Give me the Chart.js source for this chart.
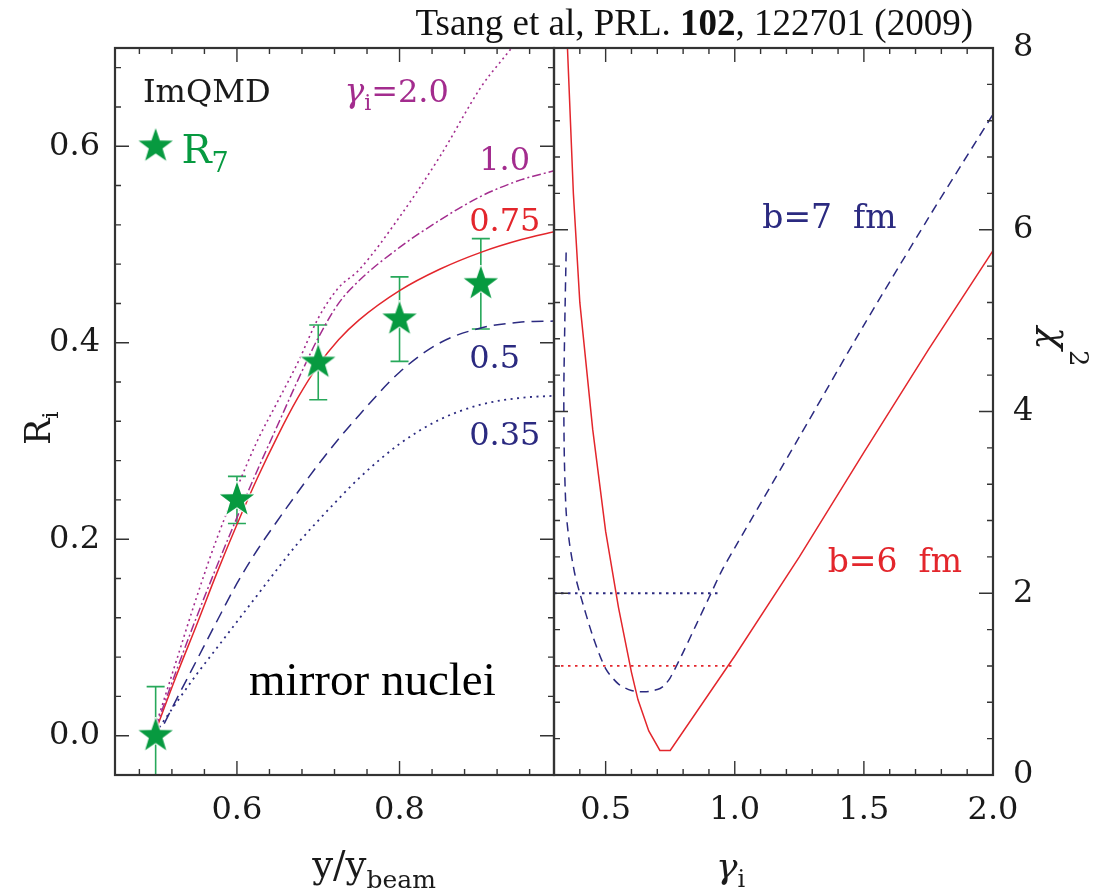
<!DOCTYPE html>
<html>
<head>
<meta charset="utf-8">
<title>ImQMD mirror nuclei: R_i and chi2 vs gamma_i</title>
<script src="https://cdn.jsdelivr.net/npm/chart.js"></script>
<style>
    body { margin: 0; background: #fff; }
    #wrap { position: relative; width: 1103px; height: 890px; }
    canvas { position: absolute; top: 0; }
    #leftChart { left: 0; }
    #rightChart { left: 548px; }
    #cite {
        position: absolute; right: 130px; top: 4px;
        font-family: 'Liberation Serif', serif; font-size: 37px; line-height: 37px;
        color: #111; white-space: nowrap;
    }
</style>
</head>
<body>
<div id="wrap">
    <canvas id="leftChart" width="560" height="890"></canvas>
    <canvas id="rightChart" width="555" height="890"></canvas>
    <div id="cite">Tsang et al, PRL. <b>102</b>, 122701 (2009)</div>
</div>
<script>
// ---- left panel: R_i vs y/y_beam ----
const rapidity   = [0.50, 0.525, 0.55, 0.575, 0.60, 0.625, 0.65, 0.675, 0.70, 0.725, 0.75, 0.80, 0.85, 0.90, 0.95, 0.99];
const riGamma200 = [0.010, 0.075, 0.140, 0.200, 0.252, 0.300, 0.340, 0.380, 0.425, 0.456, 0.474, 0.528, 0.590, 0.660, 0.715, 0.780];
const riGamma100 = [0.008, 0.065, 0.120, 0.172, 0.222, 0.270, 0.316, 0.362, 0.405, 0.440, 0.463, 0.497, 0.525, 0.549, 0.566, 0.575];
const riGamma075 = [0.005, 0.060, 0.112, 0.165, 0.215, 0.262, 0.305, 0.344, 0.377, 0.403, 0.423, 0.453, 0.475, 0.492, 0.505, 0.513];
const riGamma050 = [-0.005, 0.036, 0.076, 0.116, 0.155, 0.189, 0.219, 0.248, 0.276, 0.302, 0.326, 0.370, 0.400, 0.415, 0.421, 0.422];
const riGamma035 = [0.003, 0.033, 0.062, 0.089, 0.116, 0.143, 0.170, 0.196, 0.219, 0.241, 0.262, 0.297, 0.322, 0.337, 0.344, 0.346];

// measured R7 (stars) with errors
const dataRapidity = [0.5, 0.6, 0.7, 0.8, 0.9];
const r7Values     = [0.0, 0.24, 0.38, 0.424, 0.46];
const r7Errors     = [0.05, 0.024, 0.038, 0.043, 0.046];

// ---- right panel: chi2 vs gamma_i ----
const gammaB6 = [0.345, 0.35, 0.375, 0.40, 0.45, 0.50, 0.55, 0.60, 0.625, 0.667, 0.71, 0.75, 1.00, 1.25, 1.50, 1.75, 2.00];
const chi2B6  = [8.40, 8.15, 6.40, 5.20, 3.80, 2.68, 1.84, 1.13, 0.83, 0.485, 0.27, 0.27, 1.31, 2.40, 3.55, 4.68, 5.77];
const gammaB7 = [0.347, 0.342, 0.338, 0.340, 0.347, 0.36, 0.38, 0.40, 0.45, 0.50, 0.55, 0.60, 0.65, 0.70, 0.725, 0.75, 0.80, 0.85, 0.90, 0.95, 1.00, 1.25, 1.50, 1.75, 2.00];
const chi2B7  = [5.75, 5.00, 4.20, 3.50, 2.90, 2.55, 2.22, 2.00, 1.53, 1.17, 1.00, 0.93, 0.915, 0.94, 0.98, 1.07, 1.35, 1.65, 1.95, 2.25, 2.50, 3.72, 4.95, 6.13, 7.27];
const limitGammaB6 = [0.3, 1.0];
const limitChi2B6  = [1.2, 1.2];
const limitGammaB7 = [0.3, 0.945];
const limitChi2B7  = [2.0, 2.0];

// tick labels
const rapidityTicks = [0.6, 0.8];
const riTicks       = [0.0, 0.2, 0.4, 0.6];
const gammaTicks    = [0.5, 1.0, 1.5, 2.0];
const chi2Ticks     = [0, 2, 4, 6, 8];

const MAGENTA = '#a32c8e';
const RED = '#e3262c';
const NAVY = '#2b2a80';
const GREEN = '#079a40';
const GREEN_ERR = '#27a85a';
const INK = '#1a1a1a';
const FRAME = '#333';
const CM = "'DejaVu Serif', serif";
const TIMES = "'Liberation Serif', serif";
const STAR = 38;

function pairs(xs, ys) {
    return xs.map((x, i) => ({ x: x, y: ys[i] }));
}

function makeStar(size, color) {
    const c = document.createElement('canvas');
    c.width = size; c.height = size;
    const g = c.getContext('2d');
    const R = size / 2 - 1, r = R * 0.4, cx = size / 2, cy = size / 2;
    g.beginPath();
    for (let i = 0; i < 10; i++) {
        const ang = -Math.PI / 2 + i * Math.PI / 5;
        const rad = i % 2 ? r : R;
        g.lineTo(cx + rad * Math.cos(ang), cy + rad * Math.sin(ang));
    }
    g.closePath();
    g.lineWidth = 2; g.strokeStyle = '#fff'; g.stroke();
    g.fillStyle = color; g.fill();
    return c;
}
const starImg = makeStar(STAR, GREEN);

// major + minor ticks; labels only on the majors
function tickBuilder(majors, step) {
    return function (scale) {
        const out = [];
        const first = Math.ceil(scale.min / step - 1e-6);
        const last = Math.floor(scale.max / step + 1e-6);
        for (let k = first; k <= last; k++) {
            const v = Math.round(k * step * 1e6) / 1e6;
            out.push({ value: v, major: majors.some(m => Math.abs(m - v) < 1e-6) });
        }
        scale.ticks = out;
    };
}

function fontOf(p) {
    return (p.style || 'normal') + ' ' + (p.weight || 'normal') + ' ' + p.size + 'px ' + (p.family || CM);
}

function richText(ctx, parts, x, y, align, rotate, color) {
    ctx.save();
    ctx.translate(x, y);
    if (rotate) ctx.rotate(rotate);
    ctx.fillStyle = color;
    ctx.textBaseline = 'alphabetic';
    ctx.textAlign = 'left';
    let w = 0;
    parts.forEach(p => { ctx.font = fontOf(p); p.w = ctx.measureText(p.t).width; w += p.w; });
    let cx = align === 'center' ? -w / 2 : (align === 'right' ? -w : 0);
    parts.forEach(p => {
        ctx.font = fontOf(p);
        ctx.fillText(p.t, cx, p.dy || 0);
        cx += p.w;
    });
    ctx.restore();
}

// notes: "at" is in data units, "px/py" is in page pixels
function notesPlugin(notes, offsetX) {
    return {
        id: 'notes',
        afterDraw(chart) {
            const { ctx, scales: { x, y } } = chart;
            notes.forEach(n => {
                if (n.star) {
                    ctx.drawImage(starImg, x.getPixelForValue(n.at[0]) - STAR / 2, y.getPixelForValue(n.at[1]) - STAR / 2);
                    return;
                }
                const px = n.at ? x.getPixelForValue(n.at[0]) : n.px - offsetX;
                const py = n.at ? y.getPixelForValue(n.at[1]) : n.py;
                richText(ctx, n.parts, px, py, n.align || 'left', n.rotate || 0, n.color);
            });
        }
    };
}

const frameTicks = {
    id: 'frameTicks',
    afterDatasetsDraw(chart) {
        const { ctx, chartArea: a } = chart;
        ctx.save();
        ctx.strokeStyle = FRAME;
        ctx.lineWidth = 1.4;
        ctx.beginPath();
        Object.values(chart.scales).forEach(s => {
            s.ticks.forEach(t => {
                const p = s.getPixelForValue(t.value);
                const len = t.major ? 14 : 6;
                if (s.isHorizontal()) {
                    if (p <= a.left + 1 || p >= a.right - 1) return;
                    ctx.moveTo(p, a.bottom); ctx.lineTo(p, a.bottom - len);
                    ctx.moveTo(p, a.top); ctx.lineTo(p, a.top + len);
                } else {
                    if (p <= a.top + 1 || p >= a.bottom - 1) return;
                    ctx.moveTo(a.left, p); ctx.lineTo(a.left + len, p);
                    ctx.moveTo(a.right, p); ctx.lineTo(a.right - len, p);
                }
            });
        });
        ctx.stroke();
        ctx.lineWidth = 2.2;
        ctx.strokeRect(a.left, a.top, a.right - a.left, a.bottom - a.top);
        ctx.restore();
    }
};

const errorBars = {
    id: 'errorBars',
    beforeDatasetsDraw(chart) {
        const { ctx, chartArea: a, scales: { x, y } } = chart;
        ctx.save();
        ctx.beginPath();
        ctx.rect(a.left, a.top, a.right - a.left, a.bottom - a.top);
        ctx.clip();
        ctx.strokeStyle = GREEN_ERR;
        ctx.lineWidth = 1.6;
        dataRapidity.forEach((xv, i) => {
            const px = x.getPixelForValue(xv);
            const lo = y.getPixelForValue(r7Values[i] - r7Errors[i]);
            const hi = y.getPixelForValue(r7Values[i] + r7Errors[i]);
            ctx.beginPath();
            ctx.moveTo(px, lo); ctx.lineTo(px, hi);
            ctx.moveTo(px - 9, lo); ctx.lineTo(px + 9, lo);
            ctx.moveTo(px - 9, hi); ctx.lineTo(px + 9, hi);
            ctx.stroke();
        });
        ctx.restore();
    }
};

function axis(position, min, max, majors, step, digits, size, padding) {
    return {
        type: 'linear',
        position: position,
        min: min,
        max: max,
        afterBuildTicks: tickBuilder(majors, step),
        afterFit: s => {
            if (s.isHorizontal()) s.height = 115; else s.width = size;
            s.paddingLeft = 0; s.paddingRight = 0; s.paddingTop = 0; s.paddingBottom = 0;
        },
        grid: { display: false, drawTicks: false },
        border: { display: false },
        ticks: {
            autoSkip: false,
            maxRotation: 0,
            padding: padding,
            color: INK,
            font: { family: CM, size: 32 },
            callback: (v, i, t) => (t[i] && t[i].major) ? Number(v).toFixed(digits) : ''
        }
    };
}

function curve(xs, ys, color, dash, width, smooth) {
    return {
        data: pairs(xs, ys),
        showLine: true,
        borderColor: color,
        borderWidth: width,
        borderDash: dash,
        pointRadius: 0,
        fill: false,
        cubicInterpolationMode: smooth ? 'monotone' : 'default',
        tension: 0
    };
}

const commonOptions = {
    responsive: false,
    animation: false,
    devicePixelRatio: 1,
    events: [],
    plugins: { legend: { display: false }, tooltip: { enabled: false } }
};

const leftNotes = [
    { at: [0.4844, 0.645], color: INK, parts: [{ t: 'ImQMD', size: 32 }] },
    { at: [0.7322, 0.6447], color: MAGENTA, parts: [{ t: 'γ', size: 33, style: 'italic' }, { t: 'i', size: 22, dy: 8 }, { t: '=2.0', size: 32 }] },
    { star: true, at: [0.5, 0.6] },
    { at: [0.5318, 0.5825], color: GREEN, parts: [{ t: 'R', size: 40 }, { t: '7', size: 27, dy: 9 }] },
    { at: [0.8979, 0.5754], color: MAGENTA, parts: [{ t: '1.0', size: 32 }] },
    { at: [0.8856, 0.5135], color: RED, parts: [{ t: '0.75', size: 32 }] },
    { at: [0.8856, 0.3743], color: NAVY, parts: [{ t: '0.5', size: 32 }] },
    { at: [0.8856, 0.2957], color: NAVY, parts: [{ t: '0.35', size: 32 }] },
    { at: [0.7666, 0.0414], color: '#000', align: 'center', parts: [{ t: 'mirror nuclei', size: 47, family: TIMES }] },
    { px: 374, py: 877, color: INK, align: 'center', parts: [{ t: 'y/y', size: 37 }, { t: 'beam', size: 25, dy: 11 }] },
    { px: 50, py: 445, color: INK, rotate: -Math.PI / 2, parts: [{ t: 'R', size: 35 }, { t: 'i', size: 23, dy: 8 }] }
];

const rightNotes = [
    { at: [1.1065, 6.016], color: NAVY, parts: [{ t: 'b=7  fm', size: 33 }] },
    { at: [1.36, 2.229], color: RED, parts: [{ t: 'b=6  fm', size: 33 }] },
    { px: 716, py: 878, color: INK, parts: [{ t: 'γ', size: 36, style: 'italic' }, { t: 'i', size: 24, dy: 9 }] },
    { px: 1044, py: 327, color: INK, rotate: Math.PI / 2, parts: [{ t: 'χ', size: 38, style: 'italic' }, { t: '2', size: 26, dy: -26 }] }
];

new Chart(document.getElementById('leftChart'), {
    type: 'scatter',
    data: {
        datasets: [
            {
                label: 'R7',
                data: pairs(dataRapidity, r7Values),
                showLine: false,
                pointStyle: starImg,
                pointRadius: 16
            },
            curve(rapidity, riGamma200, MAGENTA, [2, 3.5], 1.6, true),
            curve(rapidity, riGamma100, MAGENTA, [9, 3, 2, 3], 1.5, true),
            curve(rapidity, riGamma075, RED, [], 1.5, true),
            curve(rapidity, riGamma050, NAVY, [12, 7], 1.5, true),
            curve(rapidity, riGamma035, NAVY, [2, 4.5], 1.8, true)
        ]
    },
    options: Object.assign({}, commonOptions, {
        layout: { autoPadding: false, padding: { top: 48, right: 6, left: 0, bottom: 0 } },
        scales: {
            x: axis('bottom', 0.45, 0.99, rapidityTicks, 0.04, 1, 115, 16),
            y: axis('left', -0.04, 0.70, riTicks, 0.04, 1, 115, 15)
        }
    }),
    plugins: [errorBars, frameTicks, notesPlugin(leftNotes, 0)]
});

new Chart(document.getElementById('rightChart'), {
    type: 'scatter',
    data: {
        datasets: [
            curve(limitGammaB6, limitChi2B6, RED, [2.5, 4.5], 1.8, false),
            curve(limitGammaB7, limitChi2B7, NAVY, [2.5, 4.5], 1.8, false),
            curve(gammaB6, chi2B6, RED, [], 1.5, false),
            Object.assign(curve(gammaB7, chi2B7, NAVY, [9, 6], 1.5, false), { tension: 0.25 })
        ]
    },
    options: Object.assign({}, commonOptions, {
        layout: { autoPadding: false, padding: { top: 48, right: 0, left: 6, bottom: 0 } },
        scales: {
            x: axis('bottom', 0.3, 2.0, gammaTicks, 0.1, 1, 110, 16),
            y: axis('right', 0, 8, chi2Ticks, 0.4, 0, 110, 20)
        }
    }),
    plugins: [frameTicks, notesPlugin(rightNotes, 548)]
});
</script>
</body>
</html>
